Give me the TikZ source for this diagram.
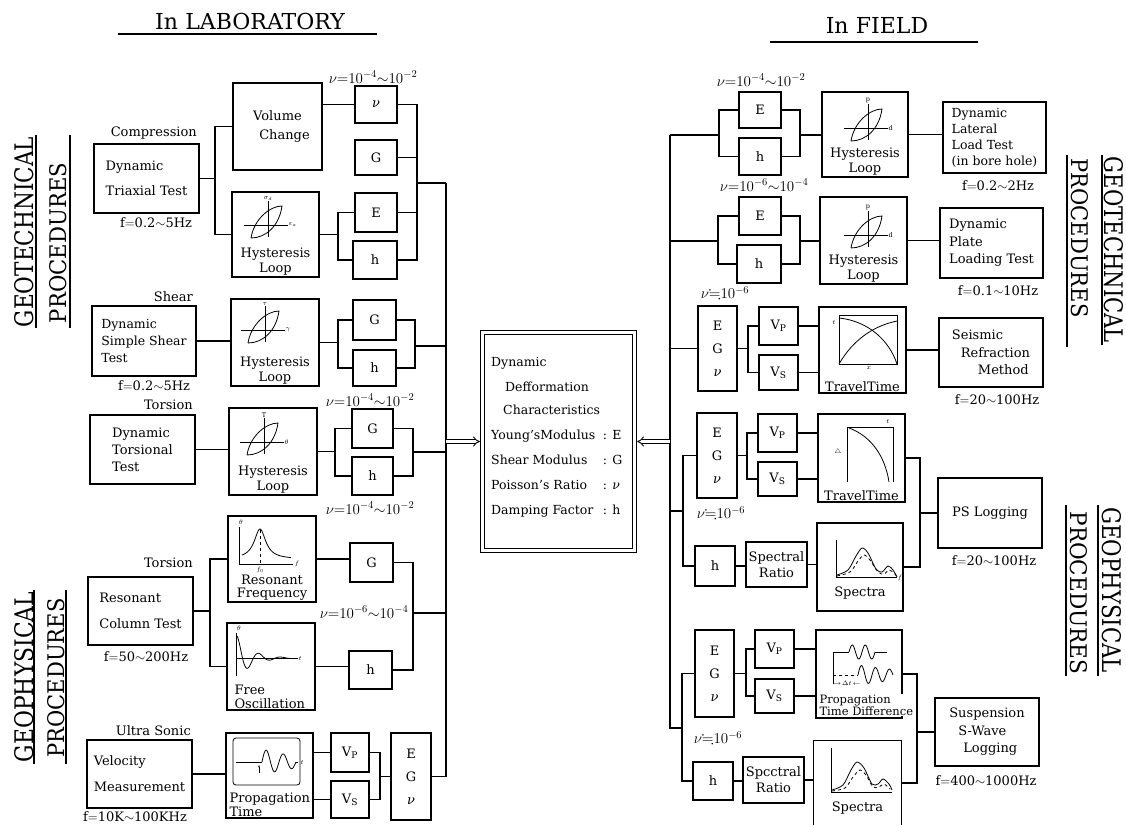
\RequirePackage{fix-cm}
\documentclass[tikz,border=0pt]{standalone}
\usepackage{amssymb}
\usepackage{graphicx}
\usepackage{fontspec}
\setmainfont{DejaVu Serif}
\usetikzlibrary{arrows.meta,calc}
\newcommand\dfmain{\fontsize{13}{16}\selectfont}
\newcommand\dflbl{\fontsize{13}{15}\selectfont}
\newcommand\dftiny{\fontsize{6.5}{8}\selectfont}
\newcommand\dftitle{\fontsize{22}{26}\selectfont}
\newcommand\nuit{\textit{ν}}
\newcommand\hysgraph[5]{%
 \begin{scope}[shift={(#1,#2)}]
  \draw[grst] (-24,0) -- (20,0);
  \draw[grst] (0,-24) -- (0,12);
  \draw[grst] (-17,13) .. controls (-14,-6) and (2,-19) .. (14,-19) .. controls (11,2) and (-3,13) .. (-17,13);
  \node[tinyst, anchor=west] (#5x) at (20,0) {#3};
  \node[tinyst, anchor=south] (#5y) at (0,-24) {#4};
 \end{scope}}
\begin{document}
\begin{tikzpicture}[x=1pt,y=-1pt,
 boxst/.style={draw, line width=1.3pt, inner sep=1pt, align=center, font=\dfmain},
 lnst/.style={line width=1.1pt},
 grst/.style={line width=0.8pt},
 lblst/.style={font=\dflbl, inner sep=0pt},
 nulbl/.style={font=\fontsize{15}{17}\selectfont, inner sep=0pt},
 tinyst/.style={font=\dftiny, inner sep=0.5pt},
 captxt/.style={font=\fontsize{13}{15}\selectfont, align=center, inner sep=2pt},
 dblarr/.style={double, double distance=2.6pt, line width=0.9pt, -{Implies[scale=1.4]}},
 ulst/.style={line width=1.2pt}
]
\useasboundingbox (0,0) rectangle (1126,825);

% ---------- titles ----------
\node[font=\dftitle, inner sep=0] (titleL) at (250,21) {In\,\,LABORATORY};
\draw[ulst] (118,34) -- (377,34);
\node[font=\dftitle, inner sep=0] (titleR) at (877,25) {In\,\,FIELD};
\draw[ulst] (770,42) -- (978,42);

% ---------- vertical labels ----------
\node[rotate=90, inner sep=0] (lg1) at (24,232) {\resizebox{190pt}{19pt}{GEOTECHNICAL}};
\draw[ulst] (36,135) -- (36,328);
\node[rotate=90, inner sep=0] (lp1) at (58,243) {\resizebox{160pt}{17pt}{PROCEDURES}};
\draw[ulst] (70,135) -- (70,328);
\node[rotate=90, inner sep=0] (lg2) at (24,677) {\resizebox{170pt}{19pt}{GEOPHYSICAL}};
\draw[ulst] (34,590) -- (34,764);
\node[rotate=90, inner sep=0] (lp2) at (56,678) {\resizebox{159pt}{17pt}{PROCEDURES}};
\draw[ulst] (66,590) -- (66,764);
\node[rotate=-90, inner sep=0] (rg1) at (1114,250) {\resizebox{186pt}{19pt}{GEOTECHNICAL}};
\draw[ulst] (1102,155) -- (1102,345);
\node[rotate=-90, inner sep=0] (rp1) at (1080,238) {\resizebox{159pt}{17pt}{PROCEDURES}};
\draw[ulst] (1067,155) -- (1067,347);
\node[rotate=-90, inner sep=0] (rg2) at (1112,590) {\resizebox{166pt}{19pt}{GEOPHYSICAL}};
\draw[ulst] (1098,505) -- (1098,676);
\node[rotate=-90, inner sep=0] (rp2) at (1079,593) {\resizebox{163pt}{17pt}{PROCEDURES}};
\draw[ulst] (1066,505) -- (1066,676);

% ---------- LEFT: triaxial ----------
\node[lblst, anchor=east] (compL) at (197,133) {Compression};
\node[boxst, align=left, minimum width=105pt, minimum height=69pt] (tri) at (146.5,178.5) {Dynamic\\[9pt]Triaxial Test};
\node[lblst] (fTri) at (156,223) {f$=$0.2$\sim$5Hz};
\node[boxst, minimum width=89pt, minimum height=87pt] (volc) at (277.5,126.5) {Volume\\[3pt]\hspace*{14pt}Change};
\node[nulbl] (nuL1) at (373,77) {$\nu{=}10^{-4}{\sim}10^{-2}$};
\node[boxst, minimum width=42pt, minimum height=37pt] (nu1) at (376,104.5) {\nuit};
\node[boxst, minimum width=42pt, minimum height=35pt] (G1) at (376,157.5) {G};
\node[boxst, minimum width=42pt, minimum height=39pt] (E1) at (376,212.5) {E};
\node[boxst, minimum width=44pt, minimum height=38pt] (h1) at (375,260) {h};
\node[boxst, minimum width=87pt, minimum height=85pt] (hys1) at (275.5,234.5) {};
\node[captxt, anchor=south] (hys1t) at (hys1.south) {Hysteresis\\Loop};
\hysgraph{268}{225}{$\varepsilon_a$}{$\sigma_d$}{ga}

% ---------- LEFT: simple shear ----------
\node[lblst, anchor=east] (shearL) at (193,297) {Shear};
\node[boxst, align=left, minimum width=104pt, minimum height=70pt, font=\fontsize{12.5}{17}\selectfont] (sst) at (144,341) {Dynamic\\Simple Shear\\Test};
\node[lblst] (fSst) at (154,386) {f$=$0.2$\sim$5Hz};
\node[boxst, minimum width=88pt, minimum height=87pt] (hys2) at (275,342.5) {};
\node[captxt, anchor=south] (hys2t) at (hys2.south) {Hysteresis\\Loop};
\hysgraph{265}{330}{$\gamma$}{$\tau$}{gb}
\node[boxst, minimum width=43pt, minimum height=40pt] (G2) at (374.5,320) {G};
\node[boxst, minimum width=43pt, minimum height=36pt] (h2) at (374.5,368) {h};

% ---------- LEFT: torsional ----------
\node[lblst, anchor=east] (torsL) at (193,405) {Torsion};
\node[nulbl] (nuL2) at (370,400) {$\nu{=}10^{-4}{\sim}10^{-2}$};
\node[boxst, align=left, minimum width=105pt, minimum height=69pt, font=\fontsize{13}{17}\selectfont] (dtt) at (142.5,449.5) {Dynamic\\Torsional\\Test};
\node[boxst, minimum width=88pt, minimum height=87pt] (hys3) at (273,451.5) {};
\node[captxt, anchor=south] (hys3t) at (hys3.south) {Hysteresis\\Loop};
\hysgraph{264}{442}{$\theta$}{T}{gc}
\node[boxst, minimum width=41pt, minimum height=39pt] (G3) at (372.5,428.5) {G};
\node[boxst, minimum width=41pt, minimum height=38pt] (h3) at (372.5,476) {h};
\node[nulbl] (nuL3) at (370,508) {$\nu{=}10^{-4}{\sim}10^{-2}$};

% ---------- LEFT: resonant column ----------
\node[lblst, anchor=east] (tors2L) at (193,563) {Torsion};
\node[boxst, align=left, minimum width=105pt, minimum height=68pt] (rct) at (140.5,611) {Resonant\\[10pt]Column Test};
\node[lblst] (fRct) at (146,657) {f$=$50$\sim$200Hz};
\node[boxst, minimum width=88pt, minimum height=86pt] (resf) at (272,559) {};
\node[captxt, anchor=south, font=\fontsize{13}{13}\selectfont] (resft) at (resf.south) {Resonant\\Frequency};
\draw[grst] (239,527) -- (239,564) -- (293,564);
\draw[grst] plot[domain=242:291, samples=60] (\x, {559-30/(1+((\x-260)/7)^2)});
\draw[grst, dashed] (260,530) -- (260,564);
\node[tinyst] (rfth) at (241,522) {$\theta$};
\node[tinyst, anchor=west] (rff) at (294,564) {$f$};
\node[tinyst] (rff0) at (260,570) {$f_0$};
\node[boxst, minimum width=43pt, minimum height=39pt] (G4) at (371.5,562.5) {G};
\node[nulbl] (nuL4) at (364,612) {$\nu{=}10^{-6}{\sim}10^{-4}$};
\node[boxst, minimum width=88pt, minimum height=87pt] (freeo) at (271,666.5) {};
\node[captxt, anchor=south west, align=left, font=\fontsize{13}{14}\selectfont] (freeot) at ($(freeo.south west)+(6,0)$) {Free\\Oscillation};
\draw[grst] (236,633) -- (236,676);
\draw[grst] (236,658) -- (298,658);
\draw[grst] plot[domain=237:292, samples=100] (\x, {658-22*exp(-(\x-237)/14)*cos(16.3636*(\x-237))});
\node[tinyst] (foth) at (239,628) {$\theta$};
\node[tinyst, anchor=west] (fot) at (298,658) {$t$};
\node[boxst, minimum width=43pt, minimum height=38pt] (h4) at (370.5,670) {h};

% ---------- LEFT: ultrasonic ----------
\node[lblst, anchor=east] (usL) at (191,731) {Ultra Sonic};
\node[boxst, align=left, minimum width=105pt, minimum height=68pt] (vel) at (139.5,774) {Velocity\\[10pt]Measurement};
\node[lblst] (fVel) at (135,817) {f$=$10K$\sim$100KHz};
\node[boxst, minimum width=87pt, minimum height=85pt] (prop) at (269.5,775.5) {};
\node[captxt, anchor=south west, align=left, font=\fontsize{13}{12}\selectfont] (propt) at ($(prop.south west)+(2,0)$) {Propagation\\Time};
\draw[grst, rounded corners=3pt] (233,738) rectangle (300,785);
\draw[grst] (236,762) -- (262,762);
\draw[grst] plot[domain=262:296, samples=80] (\x, {762-13*sin(21.1765*(\x-262))*exp(-(\x-262)/45)});
\draw[grst] (296,762) -- (298,762);
\draw[grst, -{Stealth[length=2.5pt]}] (259,773) -- (259,765);
\node[tinyst, anchor=west] (prt) at (300,762) {$t$};
\node[boxst, minimum width=38pt, minimum height=39pt] (vp1) at (350,752.5) {V$_{\mathrm{P}}$};
\node[boxst, minimum width=38pt, minimum height=37pt] (vs1) at (350,799.5) {V$_{\mathrm{S}}$};
\node[boxst, minimum width=40pt, minimum height=87pt] (egn1) at (411,776.5) {E\\[7pt]G\\[7pt]\nuit};

% ---------- LEFT connectors ----------
\coordinate (busL) at (446,183);
\coordinate (l1a) at (215,178.5);
\draw[lnst] (tri.east) -- (l1a);
\draw[lnst] (volc.west) -| (l1a) |- (hys1.west);
\draw[lnst] (nu1.west) -- (nu1.west -| volc.east);
\coordinate (l1b) at (338,234.5);
\draw[lnst] (hys1.east) -- (l1b);
\draw[lnst] (E1.west) -| (l1b) |- (h1.west);
\coordinate (l1c) at (417,183);
\draw[lnst] (nu1.east) -| (l1c |- h1.east) -- (h1.east);
\draw[lnst] (G1.east) -- (G1.east -| l1c);
\draw[lnst] (E1.east) -- (E1.east -| l1c);
\draw[lnst] (l1c) -- (busL);
\draw[lnst] (busL) -- (busL |- egn1.east) -- (egn1.east);

\draw[lnst] (sst.east) -- (sst.east -| hys2.west);
\coordinate (l2b) at (338,342.5);
\draw[lnst] (hys2.east) -- (l2b);
\draw[lnst] (G2.west) -| (l2b) |- (h2.west);
\coordinate (l2c) at (415,346);
\draw[lnst] (G2.east) -| (l2c |- h2.east) -- (h2.east);
\draw[lnst] (l2c) -- (l2c -| busL);

\draw[lnst] (dtt.east) -- (dtt.east -| hys3.west);
\coordinate (l3b) at (335,451.5);
\draw[lnst] (hys3.east) -- (l3b);
\draw[lnst] (G3.west) -| (l3b) |- (h3.west);
\coordinate (l3c) at (413,452);
\draw[lnst] (G3.east) -| (l3c |- h3.east) -- (h3.east);
\draw[lnst] (l3c) -- (l3c -| busL);

\coordinate (l4a) at (210,611);
\draw[lnst] (rct.east) -- (l4a);
\draw[lnst] (resf.west) -| (l4a) |- (freeo.west);
\draw[lnst] (resf.east) -- (resf.east -| G4.west);
\draw[lnst] (freeo.east) -- (freeo.east -| h4.west);
\coordinate (l4c) at (413,613);
\draw[lnst] (G4.east) -| (l4c |- h4.east) -- (h4.east);
\draw[lnst] (l4c) -- (l4c -| busL);

\draw[lnst] (vel.east) -- (vel.east -| prop.west);
\draw[lnst] (vp1.west) -- (vp1.west -| prop.east);
\draw[lnst] (vs1.west) -- (vs1.west -| prop.east);
\coordinate (l5b) at (380,776.5);
\draw[lnst] (vp1.east) -| (l5b |- vs1.east) -- (vs1.east);
\draw[lnst] (l5b) -- (egn1.west);

% ---------- CENTRE ----------
\node[draw, double, double distance=3pt, line width=1.2pt, minimum width=152pt, minimum height=218pt, inner sep=0] (centre) at (558.5,441.5) {};
\node[font=\fontsize{12.5}{15}\selectfont, anchor=west, inner sep=0] (ctext) at (491,437.5) {\begin{tabular}{@{}l@{\hspace{3pt}}l@{}}
Dynamic & \\[10pt]
\hspace*{14pt}Defformation & \\[8pt]
\hspace*{12pt}Characteristics & \\[10pt]
Young's\hspace{0pt}Modulus & : E\\[10pt]
Shear Modulus & : G\\[10pt]
Poisson's Ratio & : \nuit\\[10pt]
Damping Factor & : h
\end{tabular}};

% ---------- RIGHT: lateral load ----------
\node[nulbl] (nuR1) at (761,80) {$\nu{=}10^{-4}{\sim}10^{-2}$};
\node[boxst, minimum width=42pt, minimum height=36pt] (E5) at (760,110) {E};
\node[boxst, minimum width=42pt, minimum height=37pt] (h5) at (760,156.5) {h};
\node[boxst, minimum width=86pt, minimum height=85pt] (hysR1) at (865,134.5) {};
\node[captxt, anchor=south] (hysR1t) at (hysR1.south) {Hysteresis\\Loop};
\hysgraph{868}{128}{d}{p}{gd}
\node[boxst, align=left, font=\fontsize{12.5}{16}\selectfont, minimum width=103pt, minimum height=71pt] (dll) at (994.5,137.5) {Dynamic\\Lateral\\Load Test\\(in bore hole)};
\node[lblst] (fDll) at (998,186) {f$=$0.2$\sim$2Hz};

% ---------- RIGHT: plate loading ----------
\node[nulbl] (nuR2) at (764,185) {$\nu{=}10^{-6}{\sim}10^{-4}$};
\node[boxst, minimum width=42pt, minimum height=38pt] (E6) at (760,216) {E};
\node[boxst, minimum width=44pt, minimum height=38pt] (h6) at (759,264) {h};
\node[boxst, minimum width=87pt, minimum height=87pt] (hysR2) at (863.5,240.5) {};
\node[captxt, anchor=south] (hysR2t) at (hysR2.south) {Hysteresis\\Loop};
\hysgraph{868}{235}{d}{p}{ge}
\node[boxst, align=left, font=\fontsize{13}{17.5}\selectfont, minimum width=103pt, minimum height=70pt] (dplt) at (991.5,243) {Dynamic\\Plate\\Loading Test};
\node[lblst] (fDplt) at (998,291) {f$=$0.1$\sim$10Hz};

% ---------- RIGHT: seismic refraction ----------
\node[nulbl] (nuR3) at (725,293) {$\nu{\fallingdotseq}10^{-6}$};
\node[boxst, minimum width=39pt, minimum height=85pt] (egn2) at (717.5,348.5) {E\\[7pt]G\\[7pt]\nuit};
\node[boxst, minimum width=39pt, minimum height=38pt] (vp2) at (778.5,326) {V$_{\mathrm{P}}$};
\node[boxst, minimum width=39pt, minimum height=35pt] (vs2) at (778.5,372.5) {V$_{\mathrm{S}}$};
\node[boxst, minimum width=87pt, minimum height=86pt] (tt1) at (862.5,350) {};
\node[captxt, anchor=south] (tt1t) at (tt1.south) {TravelTime};
\draw[grst] (839,315) rectangle (897,364);
\draw[grst] (839,318) .. controls (868,321) and (889,340) .. (897,364);
\draw[grst] (839,364) .. controls (853,340) and (873,326) .. (897,321);
\node[tinyst] (tt1tl) at (834,322) {$t$};
\node[tinyst] (tt1xl) at (869,368) {$x$};
\node[boxst, align=left, font=\fontsize{13}{17.5}\selectfont, minimum width=104pt, minimum height=69pt] (srm) at (991,352.5) {Seismic\\\hspace*{9pt}Refraction\\\hspace*{26pt}Method};
\node[lblst] (fSrm) at (997,400) {f$=$20$\sim$100Hz};

% ---------- RIGHT: PS logging ----------
\node[boxst, minimum width=40pt, minimum height=85pt] (egn3) at (717,455.5) {E\\[7pt]G\\[7pt]\nuit};
\node[boxst, minimum width=39pt, minimum height=38pt] (vp3) at (777.5,433) {V$_{\mathrm{P}}$};
\node[boxst, minimum width=39pt, minimum height=34pt] (vs3) at (777.5,479) {V$_{\mathrm{S}}$};
\node[boxst, minimum width=87pt, minimum height=88pt] (tt2) at (861.5,458) {};
\node[captxt, anchor=south] (tt2t) at (tt2.south) {TravelTime};
\draw[grst] (847,482) -- (847,427) -- (893,427) -- (893,482);
\draw[grst] (849,428) .. controls (871,436) and (885,456) .. (889,482);
\node[tinyst] (tt2tl) at (888,421) {$t$};
\node[tinyst] (tt2dl) at (838,452) {$\triangle$};
\node[boxst, minimum width=104pt, minimum height=70pt] (psl) at (990,513) {PS Logging};
\node[lblst] (fPsl) at (994,561) {f$=$20$\sim$100Hz};
\node[nulbl] (nuR4) at (721,513) {$\nu{\fallingdotseq}10^{-6}$};
\node[boxst, minimum width=40pt, minimum height=40pt] (h7) at (715,566) {h};
\node[boxst, minimum width=61pt, minimum height=45pt, font=\fontsize{13}{16}\selectfont] (sr1) at (776.5,564.5) {Spectral\\Ratio};
\node[boxst, minimum width=86pt, minimum height=88pt] (spec1) at (860,567) {};
\node[captxt] (spec1t) at (860,593) {Spectra};
\draw[grst] (836,540) -- (836,577) -- (897,577);
\draw[grst] plot[smooth] coordinates {(837,575) (848,570) (856,556) (862,548) (868,553) (876,569) (882,572) (888,566) (893,570) (897,577)};
\draw[grst, dashed] plot[smooth] coordinates {(837,576) (850,572) (858,561) (864,555) (870,560) (878,572) (884,574) (889,570) (894,573) (897,577)};
\node[tinyst, anchor=west] (sp1f) at (897,578) {$f$};

% ---------- RIGHT: suspension logging ----------
\node[boxst, minimum width=39pt, minimum height=87pt] (egn4) at (714.5,673.5) {E\\[7pt]G\\[7pt]\nuit};
\node[boxst, minimum width=39pt, minimum height=38pt] (vp4) at (774.5,649) {V$_{\mathrm{P}}$};
\node[boxst, minimum width=39pt, minimum height=34pt] (vs4) at (774.5,696) {V$_{\mathrm{S}}$};
\node[boxst, minimum width=86pt, minimum height=88pt] (ptd) at (859,674) {};
\draw[grst] (833,684) -- (833,652) -- (849,652);
\draw[grst] plot[domain=849:875, samples=60] (\x,{652-7*sin(27.6923*(\x-849))});
\draw[grst] (875,652) -- (887,652);
\draw[grst, dashed] (833,675) -- (858,675);
\draw[grst] plot[domain=858:893, samples=60] (\x,{675-10*sin(25.7143*(\x-858))*exp(-(\x-858)/60)});
\node[tinyst] (ptdl) at (847,683) {$\rightarrow\!\Delta t\!\leftarrow$};
\node[captxt, anchor=south west, align=left, fill=white, inner sep=1pt, font=\fontsize{11.5}{12}\selectfont] (ptdt) at ($(ptd.south west)+(3,-2)$) {Propagation\\Time Difference};
\node[boxst, align=left, font=\fontsize{13}{17.5}\selectfont, minimum width=104pt, minimum height=68pt] (ssw) at (987,732) {Suspension\\\hspace*{9pt}S-Wave\\\hspace*{14pt}Logging};
\node[lblst] (fSsw) at (986,781) {f$=$400$\sim$1000Hz};
\node[nulbl] (nuR5) at (718,738) {$\nu{\fallingdotseq}10^{-6}$};
\node[boxst, minimum width=40pt, minimum height=38pt] (h8) at (713,781) {h};
\node[boxst, minimum width=61pt, minimum height=46pt, font=\fontsize{13}{16}\selectfont] (sr2) at (773.5,780) {Spcctral\\Ratio};
\node[minimum width=87pt, minimum height=84pt, inner sep=0] (spec2) at (857.5,783) {};
\draw[line width=1.3pt] (spec2.south west) -- (spec2.north west) -- (spec2.north east) -- (spec2.south east);
\node[captxt] (spec2t) at (857.5,808) {Spectra};
\draw[grst] (831,748) -- (831,792) -- (892,792);
\draw[grst] plot[smooth] coordinates {(832,790) (843,785) (851,770) (857,762) (864,768) (872,784) (878,784) (883,779) (889,784) (892,790)};
\draw[grst, dashed] plot[smooth] coordinates {(832,791) (845,788) (853,777) (860,770) (866,775) (873,787) (879,787) (884,784) (890,789)};

% ---------- RIGHT connectors ----------
\coordinate (busR) at (670,135);
\coordinate (r1a) at (719,135);
\coordinate (r1b) at (800,135);
\draw[lnst] (busR) -- (r1a);
\draw[lnst] (E5.west) -| (r1a |- h5.west) -- (h5.west);
\draw[lnst] (E5.east) -| (r1b |- h5.east) -- (h5.east);
\draw[lnst] (r1b) -- (r1b -| hysR1.west);
\draw[lnst] (hysR1.east) -- (hysR1.east -| dll.west);

\coordinate (r2a) at (718,241);
\coordinate (r2b) at (800,241);
\draw[lnst] (busR |- r2a) -- (r2a);
\draw[lnst] (E6.west) -| (r2a |- h6.west) -- (h6.west);
\draw[lnst] (E6.east) -| (r2b |- h6.east) -- (h6.east);
\draw[lnst] (r2b) -- (r2b -| hysR2.west);
\draw[lnst] (hysR2.east) -- (hysR2.east -| dplt.west);

\draw[lnst] (busR |- egn2.west) -- (egn2.west);
\coordinate (r3b) at (748,348.5);
\draw[lnst] (egn2.east) -- (r3b);
\draw[lnst] (vp2.west) -| (r3b |- vs2.west) -- (vs2.west);
\draw[lnst] (vp2.east) -- (vp2.east -| tt1.west);
\draw[lnst] (vs2.east) -- (vs2.east -| tt1.west);
\draw[lnst] (tt1.east) -- (tt1.east -| srm.west);

\coordinate (r4a) at (683,511);
\draw[lnst] (busR |- r4a) -- (r4a);
\draw[lnst] (egn3.west) -| (r4a |- h7.west) -- (h7.west);
\coordinate (r4b) at (747,455.5);
\draw[lnst] (egn3.east) -- (r4b);
\draw[lnst] (vp3.west) -| (r4b |- vs3.west) -- (vs3.west);
\draw[lnst] (vp3.east) -- (vp3.east -| tt2.west);
\draw[lnst] (vs3.east) -- (vs3.east -| tt2.west);
\coordinate (r4c) at (920,513);
\draw[lnst] (tt2.east) -| (r4c |- spec1.east) -- (spec1.east);
\draw[lnst] (r4c) -- (r4c -| psl.west);
\draw[lnst] (h7.east) -- (h7.east -| sr1.west);
\draw[lnst] (sr1.east) -- (sr1.east -| spec1.west);

\coordinate (r5a) at (682,728);
\draw[lnst] (busR) -- (busR |- r5a) -- (r5a);
\draw[lnst] (egn4.west) -| (r5a |- h8.west) -- (h8.west);
\coordinate (r5b) at (746,673.5);
\draw[lnst] (egn4.east) -- (r5b);
\draw[lnst] (vp4.west) -| (r5b |- vs4.west) -- (vs4.west);
\draw[lnst] (vp4.east) -- (vp4.east -| ptd.west);
\draw[lnst] (vs4.east) -- (vs4.east -| ptd.west);
\coordinate (r5c) at (917,732);
\draw[lnst] (ptd.east) -| (r5c |- spec2.east) -- (spec2.east);
\draw[lnst] (r5c) -- (r5c -| ssw.west);
\draw[lnst] (h8.east) -- (h8.east -| sr2.west);
\draw[lnst] (sr2.east) -- (sr2.east -| spec2.west);

% ---------- arrows into centre ----------
\draw[dblarr, shorten >=2pt] (busL |- centre.west) -- (centre.west);
\draw[dblarr, shorten >=2pt] (busR |- centre.east) -- (centre.east);
\end{tikzpicture}
\end{document}
